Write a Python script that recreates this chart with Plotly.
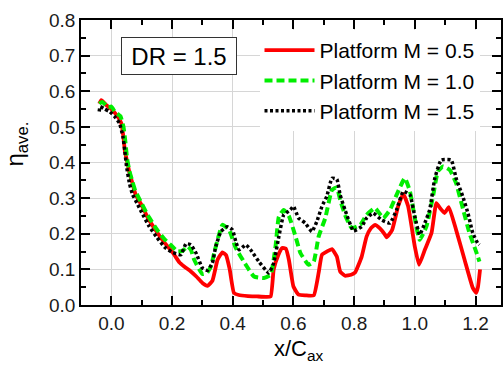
import plotly.graph_objects as go

# M = 0.5 (red solid)
x_m05 = [-0.04, -0.033, -0.015, 0.0, 0.02, 0.033, 0.04, 0.045, 0.05, 0.06, 0.07, 0.08, 0.1, 0.12, 0.15,
         0.175, 0.2, 0.212, 0.224, 0.24, 0.262, 0.28, 0.30, 0.317, 0.333, 0.35, 0.366, 0.378, 0.39,
         0.404, 0.42, 0.45, 0.48, 0.51, 0.525, 0.535, 0.55, 0.563, 0.575, 0.585, 0.60, 0.617, 0.64,
         0.667, 0.683, 0.694, 0.71, 0.727, 0.743, 0.754, 0.77, 0.79, 0.803, 0.825, 0.841, 0.855,
         0.869, 0.885, 0.902, 0.907, 0.925, 0.945, 0.962, 0.978, 1.0, 1.014, 1.033, 1.055, 1.071,
         1.085, 1.098, 1.112, 1.136, 1.164, 1.191, 1.202, 1.208, 1.215]
y_m05 = [0.565, 0.575, 0.56, 0.55, 0.53, 0.51, 0.47, 0.43, 0.41, 0.37, 0.34, 0.31, 0.28, 0.245, 0.205,
         0.175, 0.15, 0.135, 0.12, 0.108, 0.094, 0.08, 0.062, 0.054, 0.068, 0.127, 0.148, 0.14, 0.10,
         0.034, 0.028, 0.025, 0.024, 0.023, 0.024, 0.10, 0.14, 0.16, 0.158, 0.127, 0.052, 0.029, 0.027,
         0.027, 0.09, 0.141, 0.15, 0.157, 0.136, 0.094, 0.082, 0.085, 0.091, 0.136, 0.192, 0.215,
         0.225, 0.215, 0.197, 0.19, 0.21, 0.277, 0.312, 0.277, 0.164, 0.113, 0.155, 0.202, 0.286,
         0.27, 0.258, 0.275, 0.211, 0.127, 0.048, 0.034, 0.05, 0.10]

# M = 1.0 (green dashed)
x_m10 = [-0.04, -0.03, -0.01, 0.0, 0.011, 0.02, 0.03, 0.04, 0.046, 0.052, 0.06, 0.07, 0.08, 0.1, 0.12,
         0.15, 0.175, 0.2, 0.218, 0.235, 0.251, 0.262, 0.273, 0.30, 0.315, 0.328, 0.34, 0.35, 0.366,
         0.388, 0.41, 0.443, 0.47, 0.503, 0.525, 0.541, 0.552, 0.568, 0.585, 0.607, 0.623, 0.65,
         0.667, 0.683, 0.705, 0.727, 0.743, 0.754, 0.77, 0.792, 0.82, 0.841, 0.869, 0.896, 0.918,
         0.94, 0.967, 0.984, 1.005, 1.016, 1.038, 1.06, 1.076, 1.093, 1.115, 1.136, 1.158, 1.18,
         1.202, 1.213]
y_m10 = [0.565, 0.57, 0.555, 0.557, 0.543, 0.537, 0.53, 0.50, 0.46, 0.41, 0.375, 0.345, 0.318, 0.285,
         0.252, 0.212, 0.185, 0.165, 0.15, 0.152, 0.164, 0.155, 0.127, 0.087, 0.09, 0.108, 0.15, 0.183,
         0.225, 0.211, 0.16, 0.113, 0.08, 0.076, 0.085, 0.164, 0.248, 0.267, 0.25, 0.192, 0.146,
         0.113, 0.122, 0.192, 0.244, 0.323, 0.33, 0.295, 0.253, 0.216, 0.225, 0.253, 0.272, 0.244,
         0.267, 0.309, 0.356, 0.319, 0.22, 0.183, 0.22, 0.305, 0.375, 0.389, 0.379, 0.342, 0.272,
         0.202, 0.15, 0.122]

# M = 1.5 (black dotted)
x_m15 = [-0.04, -0.037, -0.022, -0.006, 0.011, 0.027, 0.038, 0.044, 0.05, 0.06, 0.07, 0.085, 0.1,
         0.125, 0.15, 0.175, 0.2, 0.229, 0.246, 0.262, 0.279, 0.30, 0.317, 0.333, 0.344, 0.361, 0.382,
         0.399, 0.41, 0.421, 0.443, 0.459, 0.486, 0.519, 0.535, 0.552, 0.568, 0.59, 0.60, 0.617, 0.639,
         0.661, 0.677, 0.694, 0.71, 0.727, 0.743, 0.754, 0.77, 0.798, 0.825, 0.841, 0.863, 0.89, 0.918,
         0.94, 0.962, 0.984, 1.0, 1.016, 1.033, 1.049, 1.066, 1.087, 1.12, 1.136, 1.158, 1.175, 1.191,
         1.207, 1.213]
y_m15 = [0.543, 0.557, 0.55, 0.543, 0.529, 0.51, 0.473, 0.435, 0.39, 0.34, 0.31, 0.285, 0.26,
         0.22, 0.19, 0.163, 0.148, 0.141, 0.172, 0.169, 0.146, 0.104, 0.097, 0.118, 0.164, 0.206, 0.22,
         0.211, 0.178, 0.155, 0.169, 0.155, 0.122, 0.09, 0.118, 0.192, 0.253, 0.267, 0.277, 0.244, 0.23,
         0.206, 0.234, 0.277, 0.305, 0.356, 0.353, 0.309, 0.267, 0.208, 0.22, 0.244, 0.258, 0.239, 0.23,
         0.267, 0.319, 0.309, 0.248, 0.197, 0.23, 0.267, 0.356, 0.407, 0.407, 0.356, 0.305, 0.258, 0.202,
         0.174, 0.169]

names = ["Platform M = 0.5", "Platform M = 1.0", "Platform M = 1.5"]
x_ticks = [0.0, 0.2, 0.4, 0.6, 0.8, 1.0, 1.2]
y_ticks = [0.0, 0.1, 0.2, 0.3, 0.4, 0.5, 0.6, 0.7, 0.8]

FONT = "Arial, 'Liberation Sans', sans-serif"

fig = go.Figure()
fig.add_trace(go.Scatter(x=x_m05, y=y_m05, mode="lines", name=names[0],
                         line=dict(color="#ff0000", width=3.8, shape="spline", smoothing=0.4)))
fig.add_trace(go.Scatter(x=x_m10, y=y_m10, mode="lines", name=names[1],
                         line=dict(color="#00ee00", width=4, dash="8px,4px", shape="spline", smoothing=0.4)))
fig.add_trace(go.Scatter(x=x_m15, y=y_m15, mode="lines", name=names[2],
                         line=dict(color="#000000", width=3.5, dash="3px,2.5px", shape="spline", smoothing=0.4)))

axis_common = dict(
    showline=True, linecolor="black", linewidth=1.5, mirror="allticks",
    ticks="inside", ticklen=9, tickwidth=1.5, tickcolor="black",
    showgrid=True, gridcolor="#d6d6d6", gridwidth=1, zeroline=False,
    tickfont=dict(family=FONT, size=19, color="#1a1a1a"),
)

fig.update_xaxes(range=[-0.1, 1.284], tickvals=x_ticks, ticktext=[f"{v:.1f}" for v in x_ticks],
                 minor=dict(dtick=0.1, tick0=0, ticks="inside", ticklen=5, tickwidth=1.5,
                            tickcolor="black", showgrid=False),
                 **axis_common)
fig.update_yaxes(range=[0, 0.8], tickvals=y_ticks, ticktext=[f"{v:.1f}" for v in y_ticks],
                 minor=dict(dtick=0.05, tick0=0, ticks="inside", ticklen=5, tickwidth=1.5,
                            tickcolor="black", showgrid=False),
                 **axis_common)

fig.add_annotation(x=0.224, y=0.699, xref="x", yref="y", text="DR = 1.5", showarrow=False,
                   font=dict(family=FONT, size=24, color="black"),
                   bgcolor="white", bordercolor="#333333", borderwidth=1, borderpad=2,
                   width=110, height=32)
fig.add_annotation(x=0.52, y=-0.215, xref="paper", yref="paper", text="x/C<sub>ax</sub>",
                   showarrow=False, font=dict(family=FONT, size=22, color="black"))
fig.add_annotation(x=-0.195, y=0.565, xref="paper", yref="paper", text="η<sub>ave.</sub>",
                   showarrow=False, textangle=-90, font=dict(family=FONT, size=24, color="black"))

fig.update_layout(
    width=503, height=370,
    margin=dict(l=81, r=0, t=20, b=65),
    plot_bgcolor="white", paper_bgcolor="white",
    showlegend=True,
    legend=dict(x=0.425, y=0.965, xanchor="left", yanchor="top", bgcolor="white",
                borderwidth=0, font=dict(family=FONT, size=21, color="black"),
                itemwidth=50, tracegroupgap=0),
)

fig.write_html("out.html")
